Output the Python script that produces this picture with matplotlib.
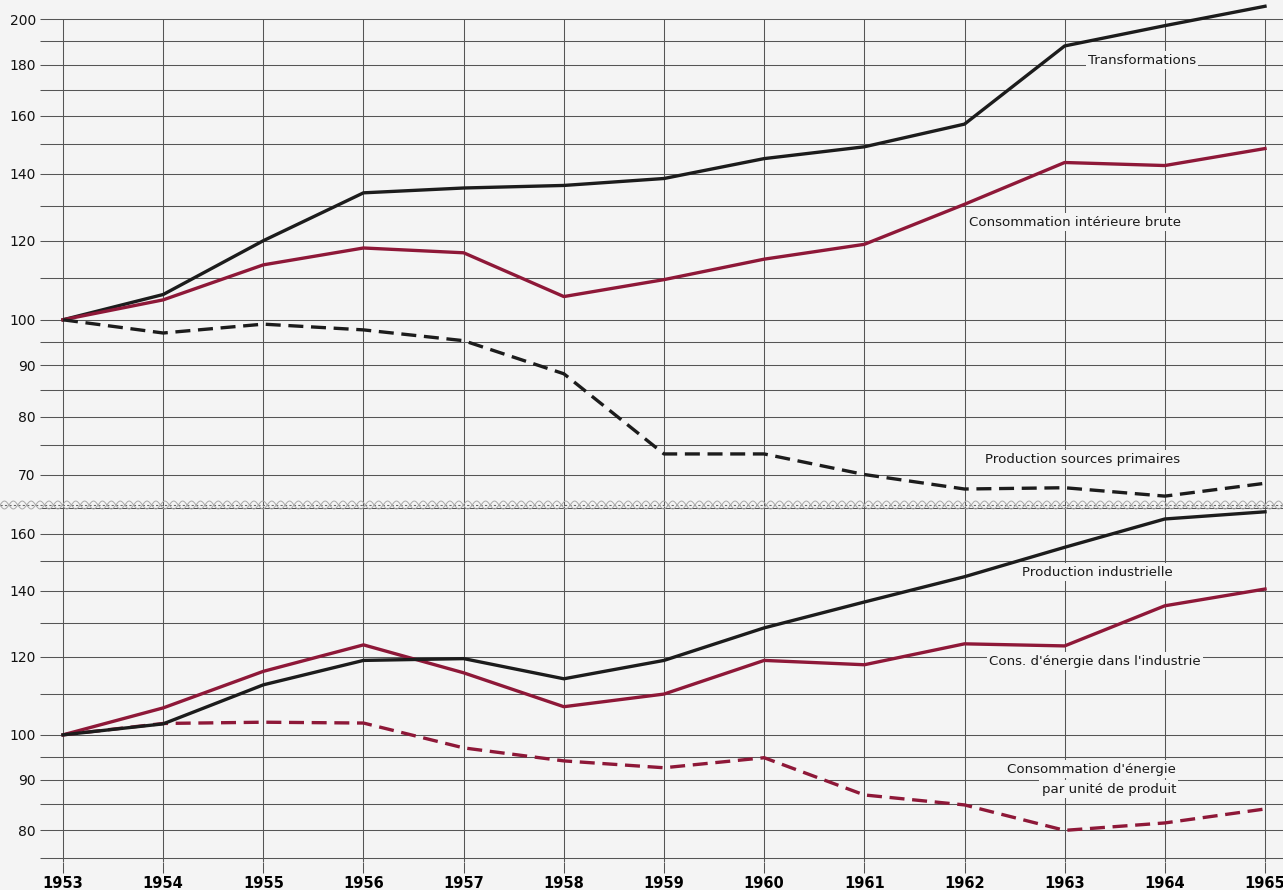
import numpy as np
import matplotlib.pyplot as plt

years = np.arange(1953, 1966)

# upper panel (index 1953 = 100)
transformations = [100, 106, 120, 134, 135.5, 136.3, 138.5, 145, 149, 157, 188, 197, 206]
cons_int_brute = [100, 104.7, 113.5, 118, 116.7, 105.5, 109.7, 115, 119, 130.5, 143.7, 142.7, 148.4]
prod_primaires = [100, 97, 99, 97.7, 95.3, 88.3, 73.4, 73.4, 70, 67.7, 67.9, 66.6, 68.6]

# lower panel
prod_industrielle = [100, 102.6, 112.4, 119, 119.5, 114, 119, 128.4, 136.4, 144.7, 155, 165.6, 168.4]
cons_industrie = [100, 106.5, 116, 123.4, 115.6, 106.8, 110, 119, 117.8, 123.7, 123.1, 135.2, 140.6]
cons_par_unite = [100, 102.7, 103, 102.8, 97, 94.1, 92.6, 94.8, 86.9, 84.9, 80, 81.4, 84.1]

upper_ticks = [70, 80, 90, 100, 120, 140, 160, 180, 200]
upper_grid = [65, 70, 75, 80, 85, 90, 95, 100, 110, 120, 130, 140, 150, 160, 170, 180, 190, 200]
lower_ticks = [80, 90, 100, 120, 140, 160]
lower_grid = [75, 80, 85, 90, 95, 100, 110, 120, 130, 140, 150, 160, 170]

bg = '#f4f4f4'
black = '#1c1c1c'
red = '#8e1838'
grid_c = '#555555'

W, H = 1283, 890
fig = plt.figure(figsize=(W / 100, H / 100), dpi=100, facecolor=bg)

ax1 = fig.add_axes([40 / W, (H - 506) / H, (W - 40) / W, 506 / H])
ax2 = fig.add_axes([40 / W, 28 / H, (W - 40) / W, (862 - 506) / H])

xlim = (1953 - 23 / 100.2, 1965 + 18 / 100.2)


def setup(ax, ylim, grid, ticks, vtop):
    ax.set_facecolor(bg)
    ax.set_yscale('log')
    ax.set_xlim(*xlim)
    ax.set_ylim(*ylim)
    for s in ax.spines.values():
        s.set_visible(False)
    ax.hlines(grid, xlim[0], xlim[1], color=grid_c, lw=0.75, zorder=1)
    ax.vlines(years, ylim[0], vtop, color=grid_c, lw=0.75, zorder=1)
    ax.set_yticks(ticks)
    ax.set_yticklabels([str(t) for t in ticks])
    ax.yaxis.set_minor_locator(plt.NullLocator())
    ax.tick_params(axis='y', length=0, pad=3, labelsize=10, labelcolor='#111111')


setup(ax1, (65.1, 209), upper_grid, upper_ticks, 200)
setup(ax2, (74.3, 170.7), lower_grid, lower_ticks, 170.7)

ax1.set_xticks([])
ax2.set_xticks(years)
ax2.set_xticklabels([str(y) for y in years], fontweight='bold', fontsize=10.5)
ax2.tick_params(axis='x', length=8, width=0.75, color=grid_c, pad=2)

dash = (4.5, 2.3)
lw = 2.4

ax1.plot(years, transformations, color=black, lw=lw, zorder=3)
ax1.plot(years, cons_int_brute, color=red, lw=lw, zorder=3)
ax1.plot(years, prod_primaires, color=black, lw=lw, dashes=dash, zorder=3)

ax2.plot(years, cons_par_unite, color=red, lw=lw, dashes=dash, zorder=2)
ax2.plot(years, cons_industrie, color=red, lw=lw, zorder=3)
ax2.plot(years, prod_industrielle, color=black, lw=lw, zorder=4)

# labels sit on the grid but under the curves
box = dict(facecolor=bg, edgecolor='none', pad=1.5)
lab = dict(fontsize=9.6, color='#1a1a1a', zorder=1.5, bbox=box)

label_specs = [
    (ax1, 'Transformations', 1142, 60, 'center'),
    (ax1, 'Consommation intérieure brute', 1075, 222, 'center'),
    (ax1, 'Production sources primaires', 1083, 459, 'center'),
    (ax2, 'Production industrielle', 1097, 572, 'center'),
    (ax2, "Cons. d'énergie dans l'industrie", 1095, 661, 'center'),
    (ax2, "Consommation d'énergie", 1176, 769, 'right'),
    (ax2, 'par unité de produit', 1176, 789, 'right'),
]
for ax, text, x, y, ha in label_specs:
    ax.text(x / W, 1 - y / H, text, ha=ha, va='center',
            transform=fig.transFigure, **lab)

# break mark between the two panels
t = np.linspace(0, 1, 1200)
yb = 1 - 505 / H
amp = 4 / H
fig.add_artist(plt.Line2D([0, 1], [yb, yb], transform=fig.transFigure,
                          color='#666666', lw=0.8, ls=(0, (2, 2))))
for sgn in (1, -1):
    fig.add_artist(plt.Line2D(t, yb + sgn * amp * np.sin(t * 2 * np.pi * 72),
                              transform=fig.transFigure, color='#a8a8a8', lw=0.7))

fig.savefig('out.png', dpi=100, facecolor=bg)
